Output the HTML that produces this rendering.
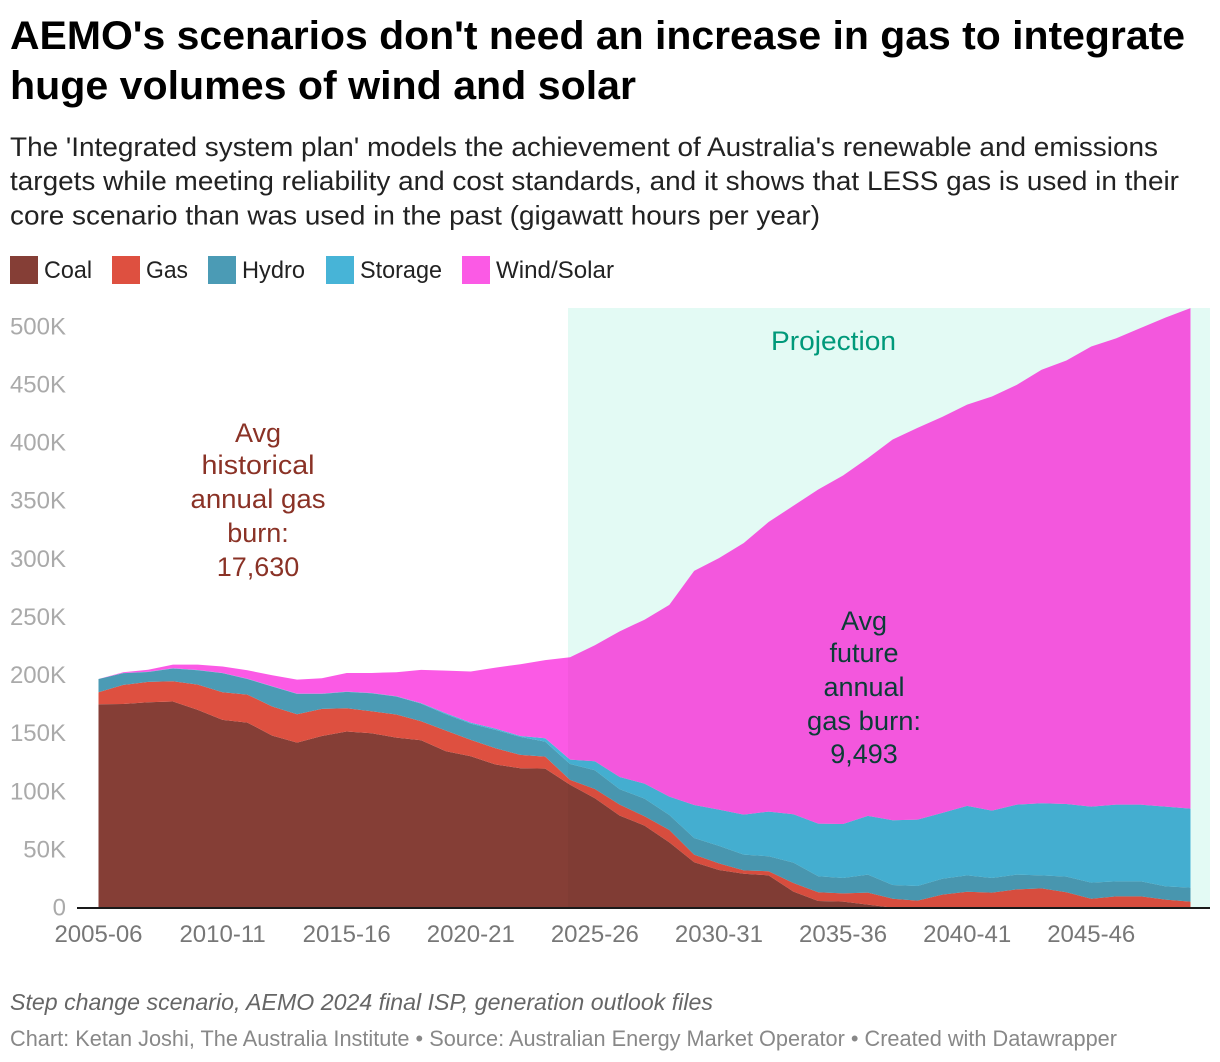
<!DOCTYPE html>
<html lang="en">
<head>
<meta charset="utf-8">
<title>AEMO's scenarios don't need an increase in gas</title>
<style>
html,body{margin:0;padding:0;background:#fff;width:1220px;height:1062px;overflow:hidden}
svg{display:block;font-family:"Liberation Sans",sans-serif}
</style>
</head>
<body>
<svg id="chart" width="1220" height="1062" viewBox="0 0 1220 1062" xmlns="http://www.w3.org/2000/svg">
  <g font-size="40" font-weight="700" fill="#000">
    <text x="10" y="49" textLength="1175" lengthAdjust="spacingAndGlyphs">AEMO's scenarios don't need an increase in gas to integrate</text>
    <text x="10" y="99" textLength="626" lengthAdjust="spacingAndGlyphs">huge volumes of wind and solar</text>
  </g>
  <g font-size="27" fill="#222">
    <text x="10" y="156" textLength="1148" lengthAdjust="spacingAndGlyphs">The 'Integrated system plan' models the achievement of Australia's renewable and emissions</text>
    <text x="10" y="190" textLength="1169" lengthAdjust="spacingAndGlyphs">targets while meeting reliability and cost standards, and it shows that LESS gas is used in their</text>
    <text x="10" y="224.5" textLength="810" lengthAdjust="spacingAndGlyphs">core scenario than was used in the past (gigawatt hours per year)</text>
  </g>
  <g font-size="24" fill="#222">
    <g><rect x="10" y="256" width="28" height="28" fill="#853e36"/><text x="44" y="278" textLength="48" lengthAdjust="spacingAndGlyphs">Coal</text></g>
    <g><rect x="112" y="256" width="28" height="28" fill="#de5040"/><text x="146" y="278" textLength="42" lengthAdjust="spacingAndGlyphs">Gas</text></g>
    <g><rect x="208" y="256" width="28" height="28" fill="#4b9bb5"/><text x="242" y="278" textLength="63" lengthAdjust="spacingAndGlyphs">Hydro</text></g>
    <g><rect x="326" y="256" width="28" height="28" fill="#47b4d7"/><text x="360" y="278" textLength="82" lengthAdjust="spacingAndGlyphs">Storage</text></g>
    <g><rect x="462" y="256" width="28" height="28" fill="#fb5ae5"/><text x="496" y="278" textLength="118" lengthAdjust="spacingAndGlyphs">Wind/Solar</text></g>
  </g>
  <rect x="568" y="308" width="642" height="600" fill="#e3faf4"/>
  <g id="areas"></g>
  <g id="yticks" font-size="24" fill="#aaa" text-anchor="end"></g>
  <rect x="568" y="308" width="622" height="600" fill="#000" fill-opacity="0.03" style="clip-path:url(#area-clip)"/>
  <defs><clipPath id="area-clip"><path id="area-clip-path" d=""/></clipPath></defs>
  <rect x="77" y="907" width="1133" height="2" fill="#1a1a1a"/>
  <g id="xticks" font-size="24" fill="#777" text-anchor="middle"></g>
  <text x="833.5" y="350" font-size="27" fill="#00997a" text-anchor="middle" textLength="125" lengthAdjust="spacingAndGlyphs">Projection</text>
  <g font-size="27" fill="#8a3226" text-anchor="middle">
    <text x="258" y="442">Avg</text>
    <text x="258" y="474" textLength="113" lengthAdjust="spacingAndGlyphs">historical</text>
    <text x="258" y="508" textLength="135" lengthAdjust="spacingAndGlyphs">annual gas</text>
    <text x="258" y="542">burn:</text>
    <text x="258" y="576">17,630</text>
  </g>
  <g font-size="27" fill="#0b3d36" text-anchor="middle">
    <text x="864" y="630">Avg</text>
    <text x="864" y="662">future</text>
    <text x="864" y="696">annual</text>
    <text x="864" y="730" textLength="114" lengthAdjust="spacingAndGlyphs">gas burn:</text>
    <text x="864" y="763">9,493</text>
  </g>
  <text x="10" y="1010" font-size="23" font-style="italic" fill="#666" textLength="703" lengthAdjust="spacingAndGlyphs">Step change scenario, AEMO 2024 final ISP, generation outlook files</text>
  <text x="10" y="1046" font-size="22" fill="#888" textLength="1107" lengthAdjust="spacingAndGlyphs">Chart: Ketan Joshi, The Australia Institute • Source: Australian Energy Market Operator • Created with Datawrapper</text>
</svg>
<script>
const years = ["2005-06","2006-07","2007-08","2008-09","2009-10","2010-11","2011-12","2012-13","2013-14","2014-15","2015-16","2016-17","2017-18","2018-19","2019-20","2020-21","2021-22","2022-23","2023-24","2024-25","2025-26","2026-27","2027-28","2028-29","2029-30","2030-31","2031-32","2032-33","2033-34","2034-35","2035-36","2036-37","2037-38","2038-39","2039-40","2040-41","2041-42","2042-43","2043-44","2044-45","2045-46","2046-47","2047-48","2048-49","2049-50"];
const xTickLabels = ["2005-06","2010-11","2015-16","2020-21","2025-26","2030-31","2035-36","2040-41","2045-46"];
const yTickValues = [0,50,100,150,200,250,300,350,400,450,500];
const coal = [175.3,175.5,177,177.6,170.4,161.8,159.5,148.3,142.3,148,151.8,150.3,146.6,144.3,134.8,130.5,123.4,120.2,119.9,106,94.4,79.5,70.9,56.5,39.3,32.7,29.5,28.1,14.1,6,5.5,2.9,0.3,0,0,0,0,0,0,0,0,0,0,0,0];
const gas = [10.3,16.4,17.5,17.4,21.8,23.8,24.1,25,24.4,23.3,20,18.9,19.8,16.3,17.8,14.1,14,11.5,10.3,4.2,8,9.4,8,10.6,6.6,5.7,2.9,3.5,7.4,7.5,7.1,10.3,7.7,6.3,11.5,14,13.2,16,16.9,13.5,8,10,10,7.2,5.5];
const hydro = [11.4,10.1,8.5,11,12.3,16.4,13.4,17.2,17.5,12.9,14.1,15.5,15.5,15.2,14.1,14,15.8,15.5,12.9,13.7,16.1,13.2,15.2,12.9,14.3,15,13.5,12.9,17.5,13.8,13.2,15.5,11.8,12.6,13.7,14.1,12.6,12.7,11.2,13.5,13.8,12.9,12.9,11.4,12];
const storage = [0,0.1,0.2,0.2,0.2,0.2,0.2,0.2,0.2,0.2,0.2,0.2,0.2,0.4,0.8,0.9,1.1,0.8,2.9,3.7,7.7,10.6,12.9,15.8,28.4,31.2,34.4,38.4,41.6,45.3,46.5,50.5,55.7,57.1,56.6,59.7,58,60.2,62,62.5,65.4,66,66,68.6,68];
const windSolar = [0,0.7,1.8,3.2,4.7,5.5,7.3,9.5,12.1,13.2,16.1,17.3,20.7,28.6,36.7,43.9,52.5,61.7,67.2,88.1,99.8,125.3,141,165,201.4,216.4,233.7,249.1,265.4,287.4,299.7,307.8,327.5,337,340.7,345.2,356.2,361.1,372.9,381.5,395.8,401.1,410.1,420.8,430.5];
const seriesNames = ["coal","gas","hydro","storage","wind-solar"];
const seriesValues = [coal,gas,hydro,storage,windSolar];
const seriesColors = ["#853e36","#de5040","#4b9bb5","#47b4d7","#fb5ae5"];

const NS = "http://www.w3.org/2000/svg";
const xAxis = i => 98.5 + i * (1190.5 - 98.5) / (years.length - 1);
const yAxis = v => 908 - v * 1.1625;

function pathFor(lower, upper) {
  const top = upper.map((v, i) => xAxis(i).toFixed(2) + "," + yAxis(v).toFixed(2));
  const bottom = lower.map((v, i) => xAxis(i).toFixed(2) + "," + yAxis(v).toFixed(2)).reverse();
  return "M" + top.join("L") + "L" + bottom.join("L") + "Z";
}

const areas = document.getElementById("areas");
let baseline = years.map(() => 0);
seriesValues.forEach((values, s) => {
  const upper = values.map((v, i) => baseline[i] + v);
  const el = document.createElementNS(NS, "path");
  
  
  el.setAttribute("d", pathFor(baseline, upper));
  el.setAttribute("fill", seriesColors[s]);
  areas.appendChild(el);
  baseline = upper;
});
document.getElementById("area-clip-path").setAttribute("d", pathFor(years.map(() => 0), baseline));

const yticks = document.getElementById("yticks");
yTickValues.forEach(v => {
  const t = document.createElementNS(NS, "text");
  
  
  t.setAttribute("x", 66);
  t.setAttribute("y", yAxis(v) + 7.5);
  t.textContent = v === 0 ? "0" : v + "K";
  yticks.appendChild(t);
});

const xticks = document.getElementById("xticks");
xTickLabels.forEach(label => {
  const t = document.createElementNS(NS, "text");
  
  
  t.setAttribute("x", xAxis(years.indexOf(label)));
  t.setAttribute("y", 942);
  t.textContent = label;
  xticks.appendChild(t);
});
</script>
</body>
</html>
